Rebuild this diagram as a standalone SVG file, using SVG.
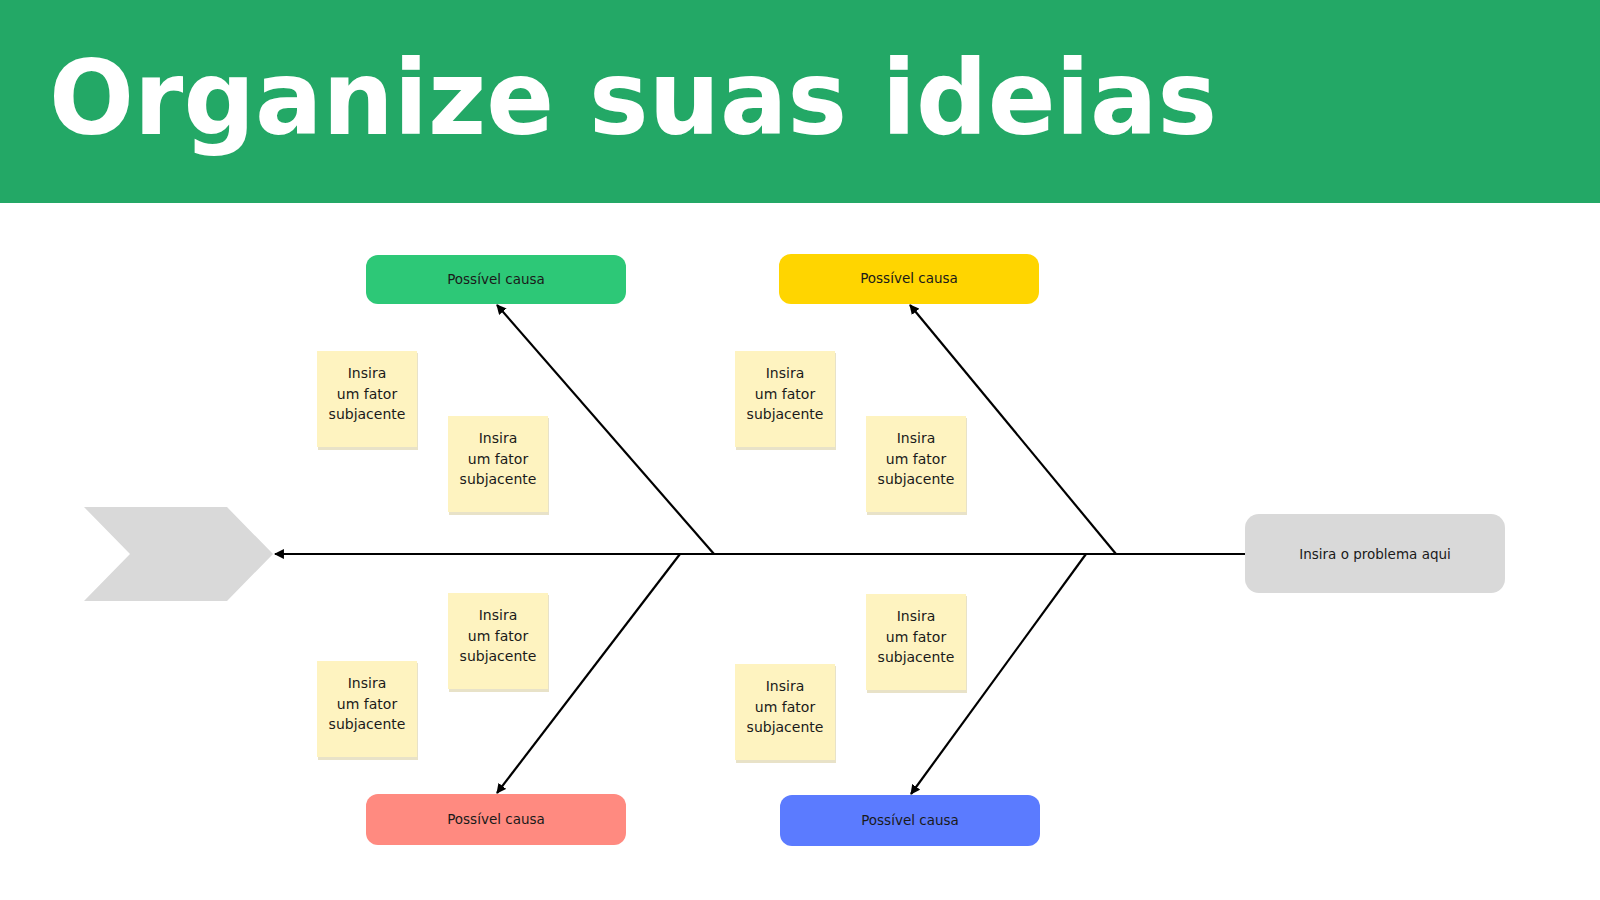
<svg xmlns="http://www.w3.org/2000/svg" width="1600" height="900" viewBox="0 0 1600 900">
<style>
.lbl{font-family:"DejaVu Sans","Noto Sans",sans-serif;font-size:13.5px;fill:#1a1a1a;text-anchor:middle}
.st{font-family:"DejaVu Sans","Noto Sans",sans-serif;font-size:14px;fill:#1a1a1a;text-anchor:middle}
.note{fill:#FEF3C0}
.sh{fill:#E8E2C8}
.bone{stroke:#000;stroke-width:2.2;fill:none}
</style>
<defs>
<marker id="ah" viewBox="0 0 10 10" refX="9" refY="5" markerWidth="4.5" markerHeight="4.5" orient="auto"><path d="M0,0 L10,5 L0,10 z" fill="#000"/></marker>
<g id="n"><rect class="sh" x="1" y="2" width="100" height="97"/><rect class="note" x="0" y="0" width="100" height="96"/></g>
</defs>
<rect x="0" y="0" width="1600" height="203" fill="#23A866"/>
<text x="49" y="134" font-family="'DejaVu Sans','Liberation Sans',sans-serif" font-weight="900" font-size="104" fill="#fff" textLength="1168" lengthAdjust="spacingAndGlyphs">Organize suas ideias</text>
<g id="connectors">
<line class="bone" x1="1245" y1="554" x2="275" y2="554" marker-end="url(#ah)"/>
<line class="bone" x1="714" y1="554" x2="497" y2="305" marker-end="url(#ah)"/>
<line class="bone" x1="1116" y1="554" x2="910" y2="305" marker-end="url(#ah)"/>
<line class="bone" x1="680" y1="554" x2="497" y2="793" marker-end="url(#ah)"/>
<line class="bone" x1="1086" y1="554" x2="911" y2="794" marker-end="url(#ah)"/>
</g>
<g id="head"><polygon points="84,507 227,507 273,554 227,601 84,601 130,554" fill="#D9D9D9"/></g>
<g id="problem"><rect x="1245" y="514" width="260" height="79" rx="14" fill="#D9D9D9"/><text class="lbl" x="1375" y="559">Insira o problema aqui</text></g>
<g id="cause1"><rect x="366" y="255" width="260" height="49" rx="12" fill="#2DC877"/><text class="lbl" x="496" y="284">Possível causa</text></g>
<g id="cause2"><rect x="779" y="254" width="260" height="50" rx="12" fill="#FFD500"/><text class="lbl" x="909" y="283">Possível causa</text></g>
<g id="cause3"><rect x="366" y="794" width="260" height="51" rx="12" fill="#FF8A80"/><text class="lbl" x="496" y="824">Possível causa</text></g>
<g id="cause4"><rect x="780" y="795" width="260" height="51" rx="12" fill="#5B7BFF"/><text class="lbl" x="910" y="825">Possível causa</text></g>
<g id="f1" transform="translate(317,351)"><use href="#n"/><text class="st" x="50" y="27">Insira</text><text class="st" x="50" y="48">um fator</text><text class="st" x="50" y="68">subjacente</text></g>
<g id="f2" transform="translate(448,416)"><use href="#n"/><text class="st" x="50" y="27">Insira</text><text class="st" x="50" y="48">um fator</text><text class="st" x="50" y="68">subjacente</text></g>
<g id="f3" transform="translate(735,351)"><use href="#n"/><text class="st" x="50" y="27">Insira</text><text class="st" x="50" y="48">um fator</text><text class="st" x="50" y="68">subjacente</text></g>
<g id="f4" transform="translate(866,416)"><use href="#n"/><text class="st" x="50" y="27">Insira</text><text class="st" x="50" y="48">um fator</text><text class="st" x="50" y="68">subjacente</text></g>
<g id="f5" transform="translate(448,593)"><use href="#n"/><text class="st" x="50" y="27">Insira</text><text class="st" x="50" y="48">um fator</text><text class="st" x="50" y="68">subjacente</text></g>
<g id="f6" transform="translate(317,661)"><use href="#n"/><text class="st" x="50" y="27">Insira</text><text class="st" x="50" y="48">um fator</text><text class="st" x="50" y="68">subjacente</text></g>
<g id="f7" transform="translate(866,594)"><use href="#n"/><text class="st" x="50" y="27">Insira</text><text class="st" x="50" y="48">um fator</text><text class="st" x="50" y="68">subjacente</text></g>
<g id="f8" transform="translate(735,664)"><use href="#n"/><text class="st" x="50" y="27">Insira</text><text class="st" x="50" y="48">um fator</text><text class="st" x="50" y="68">subjacente</text></g>
</svg>
